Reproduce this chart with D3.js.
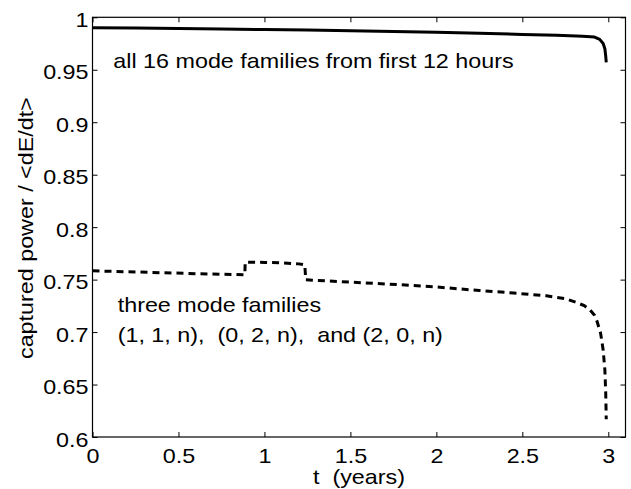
<!DOCTYPE html>
<html>
<head>
<meta charset="utf-8">
<script src="https://cdn.jsdelivr.net/npm/d3@7"></script>
<style>
  html, body { margin: 0; padding: 0; background: #fff; }
  svg { display: block; }
  text { font-family: "Liberation Sans", Arial, Helvetica, sans-serif; fill: #000; white-space: pre; }
</style>
</head>
<body>
<svg id="chart" width="631" height="489"></svg>
<script>
// ---- data ----
const xTicks = [0, 0.5, 1, 1.5, 2, 2.5, 3];
const xTickLabels = ["0", "0.5", "1", "1.5", "2", "2.5", "3"];
const yTicks = [0.6, 0.65, 0.7, 0.75, 0.8, 0.85, 0.9, 0.95, 1];
const yTickLabels = ["0.6", "0.65", "0.7", "0.75", "0.8", "0.85", "0.9", "0.95", "1"];

// all 16 mode families (solid)
const tAll = [0, 0.25, 0.5, 0.75, 1.0, 1.25, 1.5, 1.75, 2.0, 2.25, 2.5, 2.7, 2.85, 2.92, 2.95, 2.97, 2.98, 2.985, 2.988];
const pAll = [0.9900, 0.9898, 0.9893, 0.9888, 0.9883, 0.9878, 0.9872, 0.9865, 0.9857, 0.9848, 0.9837, 0.9828, 0.9820, 0.9812, 0.9790, 0.9750, 0.9700, 0.9630, 0.9570];

// three mode families (dashed)
const tThree = [0, 0.2, 0.4, 0.6, 0.886, 0.888, 1.0, 1.1, 1.2, 1.235, 1.24, 1.5, 1.8, 2.0, 2.25, 2.45, 2.64, 2.75, 2.815, 2.86, 2.893, 2.92, 2.935, 2.955, 2.97, 2.98, 2.985, 2.988];
const pThree = [0.7584, 0.7575, 0.7566, 0.7557, 0.7546, 0.7667, 0.7664, 0.7660, 0.7650, 0.7640, 0.7498, 0.7476, 0.7450, 0.7430, 0.7396, 0.7372, 0.7346, 0.7318, 0.7282, 0.7252, 0.7212, 0.7160, 0.7100, 0.6990, 0.6830, 0.6640, 0.6420, 0.6170];

const xLabel = "t  (years)";
const yLabel = "captured power / <dE/dt>";
const note1 = "all 16 mode families from first 12 hours";
const note2a = "three mode families";
const note2b = "(1, 1, n),  (0, 2, n),  and (2, 0, n)";

// ---- layout ----
const L = 92.5, R = 625.5, T = 17.3, B = 437;
const FS = 21, STRETCH = 1.11;

const svg = d3.select("#chart");
const x = d3.scaleLinear().domain([0, 3.1]).range([L, R]);
const y = d3.scaleLinear().domain([0.6, 1]).range([B, T]);

function stretch(sel) {
  sel.each(function () {
    const w = this.getComputedTextLength();
    this.setAttribute("textLength", (w * STRETCH).toFixed(2));
    this.setAttribute("lengthAdjust", "spacingAndGlyphs");
  });
}

svg.append("defs").append("clipPath").attr("id", "clip")
  .append("rect").attr("x", L).attr("y", T).attr("width", R - L).attr("height", B - T);

// axes
const gB = svg.append("g").attr("transform", `translate(0,${B})`)
  .call(d3.axisBottom(x).tickValues(xTicks).tickFormat((d, i) => xTickLabels[i]).tickSizeInner(-5).tickSizeOuter(0));
const gT = svg.append("g").attr("transform", `translate(0,${T})`)
  .call(d3.axisTop(x).tickValues(xTicks).tickFormat("").tickSizeInner(-5).tickSizeOuter(0));
const gL = svg.append("g").attr("transform", `translate(${L},0)`)
  .call(d3.axisLeft(y).tickValues(yTicks).tickFormat((d, i) => yTickLabels[i]).tickSizeInner(-5).tickSizeOuter(0));
const gR = svg.append("g").attr("transform", `translate(${R},0)`)
  .call(d3.axisRight(y).tickValues(yTicks).tickFormat("").tickSizeInner(-5).tickSizeOuter(0));

[gB, gT, gL, gR].forEach(g => {
  g.select(".domain").remove();
  g.selectAll(".tick line").attr("stroke", "#000").attr("stroke-width", 1);
  g.attr("font-family", null).attr("font-size", null);
});

gB.selectAll(".tick text").attr("y", 26).attr("dy", 0)
  .style("font-size", FS + "px").attr("fill", "#000").call(stretch);
gL.selectAll(".tick text").attr("x", -4).attr("dy", 9)
  .style("font-size", FS + "px").attr("fill", "#000").call(stretch);

// box
svg.append("rect").attr("x", L).attr("y", T).attr("width", R - L).attr("height", B - T)
  .attr("fill", "none").attr("stroke", "#000").attr("stroke-width", 1.2);

// lines
const line = d3.line().x(d => x(d[0])).y(d => y(d[1]));
const dataAll = tAll.map((t, i) => [t, pAll[i]]);
const dataThree = tThree.map((t, i) => [t, pThree[i]]);

svg.append("path").datum(dataAll).attr("clip-path", "url(#clip)")
  .attr("d", line).attr("fill", "none").attr("stroke", "#000").attr("stroke-width", 3)
  .attr("stroke-linejoin", "round");
svg.append("path").datum(dataThree).attr("clip-path", "url(#clip)")
  .attr("d", line).attr("fill", "none").attr("stroke", "#000").attr("stroke-width", 3)
  .attr("stroke-dasharray", "7,5");

// labels
svg.append("text").attr("x", (L + R) / 2).attr("y", 484).attr("text-anchor", "middle")
  .style("font-size", FS + "px").text(xLabel).call(stretch);
svg.append("text").attr("transform", `translate(33,${(T + B) / 2 + 1}) rotate(-90)`)
  .attr("text-anchor", "middle").style("font-size", FS + "px").text(yLabel).call(stretch);

svg.append("text").attr("x", 113.3).attr("y", 68).style("font-size", FS + "px").text(note1).call(stretch);
svg.append("text").attr("x", 117.7).attr("y", 312.3).style("font-size", FS + "px").text(note2a).call(stretch);
svg.append("text").attr("x", 117.7).attr("y", 341.5).style("font-size", FS + "px").text(note2b).call(stretch);
</script>
</body>
</html>
